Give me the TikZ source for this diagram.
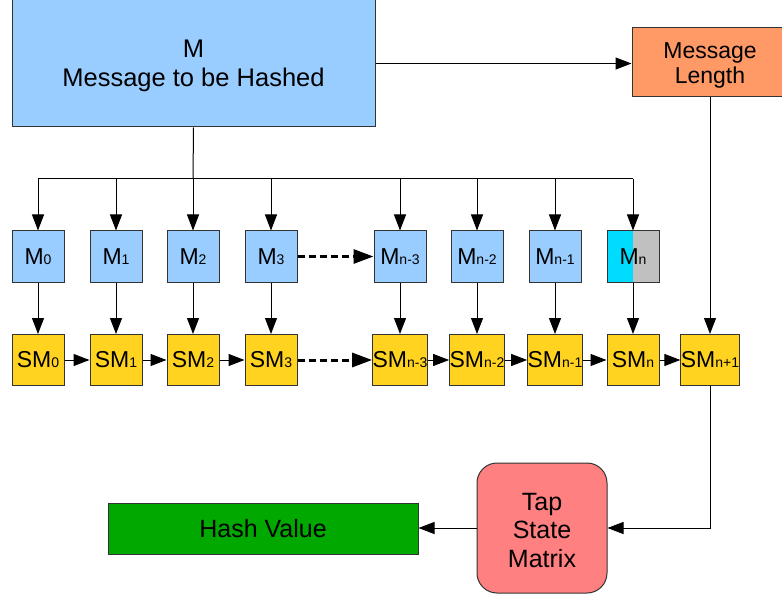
\documentclass[tikz,border=0pt]{standalone}
\usepackage{fontspec}
\setmainfont{Liberation Sans}
\usetikzlibrary{arrows.meta,calc}
\definecolor{mblue}{HTML}{99CCFF}
\definecolor{lenor}{HTML}{FF9966}
\definecolor{smgold}{HTML}{FFD320}
\definecolor{hashgr}{HTML}{00A800}
\definecolor{tapred}{HTML}{FF8080}
\definecolor{mncyan}{HTML}{00DCFF}
\definecolor{mngray}{HTML}{C0C0C0}
\definecolor{edge}{HTML}{333333}
\newcommand\sbs[1]{{\fontsize{14}{14}\selectfont #1}}
\begin{document}
\begin{tikzpicture}[x=1pt,y=-1pt,
  box/.style={draw=edge,line width=1pt,rectangle,inner sep=0pt,align=center},
  small/.style={box,minimum width=52pt,minimum height=51pt,font=\fontsize{23}{23}\selectfont},
  mbox/.style={small,fill=mblue},
  smbox/.style={small,fill=smgold},
  arr/.style={draw=black,line width=1pt,-{Triangle[length=16pt,width=12pt]}},
  darr/.style={draw=black,line width=3pt,dash pattern=on 7pt off 4pt,-{Triangle[length=20pt,width=14pt]}},
  ln/.style={draw=black,line width=1pt}]
\useasboundingbox (0,0) rectangle (782,596);
\node[box,fill=mblue,minimum width=363pt,minimum height=127pt,font=\fontsize{25.5}{29}\selectfont] (m) at (193.5,63.5) {\rule{0pt}{22pt}M\\Message to be Hashed};
\node[box,fill=lenor,minimum width=156pt,minimum height=69pt,font=\fontsize{23}{25}\selectfont] (len) at (710,62.5) {\rule{0pt}{22.5pt}Message\\Length};
% M row
\node[mbox] (m0) at (38,256.5) {M\sbs{0}};
\node[mbox] (m1) at (116,256.5) {M\sbs{1}};
\node[mbox] (m2) at (193,256.5) {M\sbs{2}};
\node[mbox] (m3) at (271,256.5) {M\sbs{3}};
\node[mbox] (m4) at (400,256.5) {M\sbs{n-3}};
\node[mbox] (m5) at (477,256.5) {M\sbs{n-2}};
\node[mbox] (m6) at (555,256.5) {M\sbs{n-1}};
\node[small,path picture={
  \fill[mncyan] (path picture bounding box.south west) rectangle (path picture bounding box.north);
  \fill[mngray] (path picture bounding box.south) rectangle (path picture bounding box.north east);}] (m7) at (633,256.5) {M\sbs{n}};
% SM row
\node[smbox] (s0) at (38,360) {SM\sbs{0}};
\node[smbox] (s1) at (116,360) {SM\sbs{1}};
\node[smbox] (s2) at (193,360) {SM\sbs{2}};
\node[smbox] (s3) at (271,360) {SM\sbs{3}};
\node[smbox] (s4) at (400,360) {SM\sbs{n-3}};
\node[smbox] (s5) at (477,360) {SM\sbs{n-2}};
\node[smbox] (s6) at (555,360) {SM\sbs{n-1}};
\node[smbox] (s7) at (633,360) {SM\sbs{n}};
\node[smbox] (s8) at (710,360) {SM\sbs{n+1}};
% bottom
\node[box,fill=tapred,rounded corners=20pt,minimum width=130pt,minimum height=130pt,font=\fontsize{25}{28.5}\selectfont] (tap) at (542,528) {\rule{0pt}{22pt}Tap\\State\\Matrix};
\node[box,fill=hashgr,minimum width=310pt,minimum height=51pt,font=\fontsize{25}{29}\selectfont] (hash) at (263,528.5) {Hash Value};
% connectors
\coordinate (bus) at (193,179);
\draw[ln] (m.south) -- (bus);
\draw[ln] (m0.north |- bus) -- (m7.north |- bus);
\foreach \i in {0,...,7} {
  \draw[arr] (m\i.north |- bus) -- (m\i.north);
  \draw[arr] (m\i.south) -- (s\i.north);
}
\draw[arr] (m.east) -- (m.east -| len.west);
\draw[arr] (len.south) -- (s8.north);
\draw[darr] (m3.east) -- (m4.west);
\draw[darr] (s3.east) -- (s4.west);
\draw[arr] (s0.east) -- (s1.west);
\draw[arr] (s1.east) -- (s2.west);
\draw[arr] (s2.east) -- (s3.west);
\draw[arr] (s4.east) -- (s5.west);
\draw[arr] (s5.east) -- (s6.west);
\draw[arr] (s6.east) -- (s7.west);
\draw[arr] (s7.east) -- (s8.west);
\draw[arr] (s8.south) |- (tap.east);
\draw[arr] (tap.west) -- (tap.west -| hash.east);
\end{tikzpicture}
\end{document}
